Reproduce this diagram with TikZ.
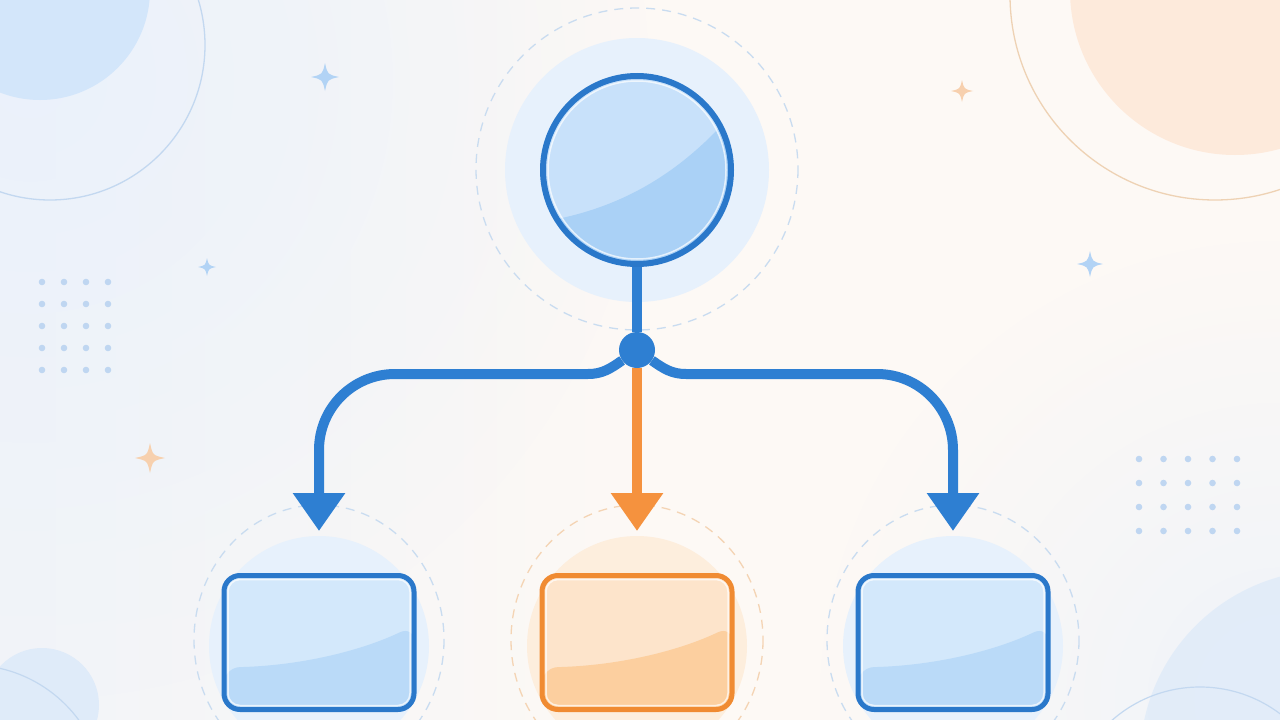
\documentclass[tikz,border=0pt]{standalone}
\usetikzlibrary{arrows.meta,calc,fadings}
\pgfdeclarelayer{front}
\pgfsetlayers{main,front}
\definecolor{bgcream}{HTML}{FDF9F5}
\definecolor{bgblue}{HTML}{E9F1FC}
\definecolor{lineblue}{HTML}{2E7FD2}
\definecolor{strokeblue}{HTML}{2A78CA}
\definecolor{lineorange}{HTML}{F5923E}
\definecolor{strokeorange}{HTML}{F08B32}
\definecolor{rootfill}{HTML}{C8E1FA}
\definecolor{rootlow}{HTML}{AAD1F6}
\definecolor{boxblue}{HTML}{D3E8FB}
\definecolor{boxbluelow}{HTML}{BADAF8}
\definecolor{boxorange}{HTML}{FDE4CB}
\definecolor{boxorangelow}{HTML}{FCCF9F}
\definecolor{halob}{HTML}{E7F1FC}
\definecolor{haloo}{HTML}{FDEEDD}
\definecolor{dashb}{HTML}{C9DCF0}
\definecolor{dasho}{HTML}{F4D4B4}
\definecolor{decob}{HTML}{D3E6FA}
\definecolor{decobsoft}{HTML}{DFEBF9}
\definecolor{decobline}{HTML}{C3D8F0}
\definecolor{decoo}{HTML}{FDEADB}
\definecolor{decooline}{HTML}{EED2B4}
\definecolor{starb}{HTML}{B2D3F5}
\definecolor{staro}{HTML}{F7D0AE}
\definecolor{dotc}{HTML}{BFD6F1}
\tikzfading[name=fadeR, left color=transparent!0, right color=transparent!100]
\tikzfading[name=fadeC, inner color=transparent!0, outer color=transparent!100]
\tikzset{
  spark/.pic={\fill (0,-1) .. controls (0.18,-0.18) .. (1,0) .. controls (0.18,0.18) .. (0,1) .. controls (-0.18,0.18) .. (-1,0) .. controls (-0.18,-0.18) .. (0,-1) -- cycle;},
  boxgloss/.style={path picture={
    \fill[#1] ([shift={(0pt,42pt)}]path picture bounding box.south west)
      .. controls ([shift={(80pt,44pt)}]path picture bounding box.south west)
      and ([shift={(-50pt,60pt)}]path picture bounding box.south east)
      .. ([shift={(0pt,84pt)}]path picture bounding box.south east)
      -- (path picture bounding box.south east) -- (path picture bounding box.south west) -- cycle;
    \draw[white,opacity=.7,line width=1.5pt,rounded corners=12pt]
      ([shift={(4pt,4pt)}]path picture bounding box.south west) rectangle
      ([shift={(-4pt,-4pt)}]path picture bounding box.north east);}},
  boxbase/.style={rectangle, rounded corners=16pt, line width=5pt, minimum width=190pt, minimum height=134pt, inner sep=0pt},
  bluebox/.style={boxbase, draw=strokeblue, fill=boxblue, boxgloss=boxbluelow},
  orangebox/.style={boxbase, draw=strokeorange, fill=boxorange, boxgloss=boxorangelow},
  rootnode/.style={circle, minimum size=188pt, inner sep=0pt, line width=6pt, draw=strokeblue, fill=rootfill,
    path picture={
      \fill[rootlow] ($(path picture bounding box.center)+(-110,54)$)
        .. controls ($(path picture bounding box.center)+(-30,44)$) and ($(path picture bounding box.center)+(40,12)$)
        .. ($(path picture bounding box.center)+(105,-68)$) -- ++(0,200) -- ++(-220,0) -- cycle;
      \draw[white,opacity=.7,line width=1.5pt] (path picture bounding box.center) circle (89);}},
  dotnode/.style={circle, fill=lineblue, minimum size=36pt, inner sep=0pt},
  blueline/.style={draw=lineblue, line width=10pt},
  bluearrow/.style={blueline, -{Triangle[width=50pt,length=38pt]}, shorten >=42pt},
  orangearrow/.style={draw=lineorange, line width=10pt, -{Triangle[width=50pt,length=38pt]}, shorten >=42pt},
  dashring/.style={dash pattern=on 9pt off 7pt, line width=1.3pt}
}
\begin{document}
\begin{tikzpicture}[x=1pt,y=-1pt]
\useasboundingbox (0,0) rectangle (1280,720);
\clip (0,0) rectangle (1280,720);
% background
\fill[bgcream] (0,0) rectangle (1280,720);
\fill[bgblue, path fading=fadeR, opacity=.55] (0,0) rectangle (640,720);
\fill[bgblue, path fading=fadeC, opacity=.8] (30,80) circle (620);
\fill[bgblue, path fading=fadeC, opacity=.7] (1280,700) circle (460);
% corner decorations
\fill[decob] (40,-10) circle (110);
\draw[decobline, line width=1.3pt] (50,45) circle (155);
\fill[decoo] (1235,-10) circle (165);
\draw[decooline, line width=1.3pt] (1215,-5) circle (205);
\fill[decobsoft] (42,705) circle (57);
\draw[decobline, line width=1.2pt] (-30,800) circle (135);
\fill[decobsoft, opacity=.8] (1330,760) circle (190);
\draw[decobline, line width=1.2pt] (1200,820) circle (133);
% sparkles
\pic[color=starb, scale=14] at (325,77) {spark};
\pic[color=starb, scale=9] at (207,267) {spark};
\pic[color=staro, scale=15] at (150,458) {spark};
\pic[color=staro, scale=11] at (962,91) {spark};
\pic[color=starb, scale=13] at (1090,264) {spark};
% dot grids
\foreach \i in {0,...,3} \foreach \j in {0,...,4} \fill[dotc] (42+22*\i, 282+22*\j) circle (3.3);
\foreach \i in {0,...,4} \foreach \j in {0,...,3} \fill[dotc] (1139+24.5*\i, 459+24*\j) circle (3.3);
% halos
\fill[halob] (637,170) circle (132);
\draw[dashb, dashring] (637,169) circle (161);
\fill[halob] (319,646) circle (110);
\fill[haloo] (637,646) circle (110);
\fill[halob] (953,646) circle (110);
\draw[dashb, dashring] (319,640) ellipse (125 and 135);
\draw[dasho, dashring] (637,640) ellipse (126 and 135);
\draw[dashb, dashring] (953,640) ellipse (126 and 135);
% nodes
\node[rootnode] (root) at (637,170) {};
\node[bluebox] (b1) at (319,642.5) {};
\node[orangebox] (b2) at (637,642.5) {};
\node[bluebox] (b3) at (953,642.5) {};
\begin{pgfonlayer}{front}
\node[dotnode] (j) at (637,350) {};
\end{pgfonlayer}
% connectors
\draw[blueline] (root) -- (j);
\draw[orangearrow] (j) -- (b2.north);
\draw[bluearrow] (j.215) to[out=215,in=0] (588,374)
  -- ($(b1.north |- 0,374)+(76,0)$) to[out=180,in=90] ($(b1.north |- 0,374)+(0,76)$) -- (b1.north);
\draw[bluearrow] (j.325) to[out=325,in=180] (686,374)
  -- ($(b3.north |- 0,374)+(-76,0)$) to[out=0,in=90] ($(b3.north |- 0,374)+(0,76)$) -- (b3.north);
\end{tikzpicture}
\end{document}
